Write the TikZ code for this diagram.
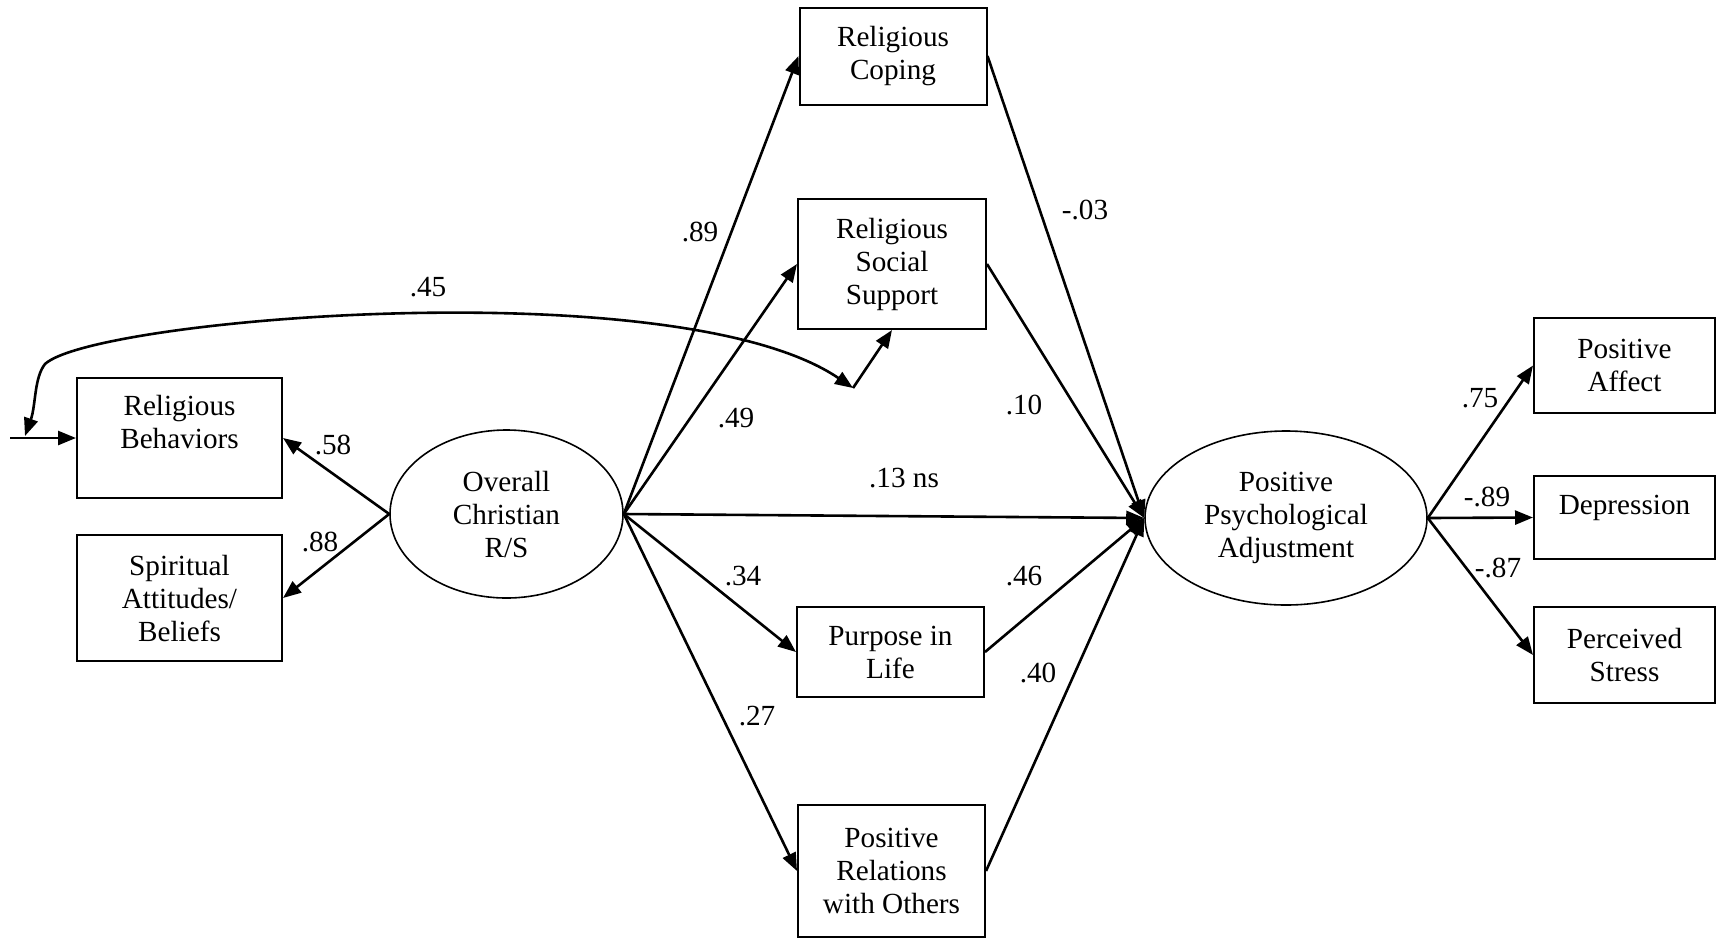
\documentclass[tikz,border=0pt]{standalone}
\usepackage{fontspec}
\setmainfont{Liberation Serif}
\usetikzlibrary{shapes.geometric, arrows.meta}

\begin{document}
\begin{tikzpicture}[x=0.5pt, y=-0.5pt, font=\fontsize{14.6}{16.5}\selectfont,
	box/.style={draw, line width=1pt, align=center, inner sep=0pt},
	latent/.style={draw, ellipse, line width=0.8pt, align=center, inner sep=0pt},
	link/.style={line width=1.3pt, -{Triangle[length=9pt, width=7pt]}},
	cov/.style={line width=1.3pt, {Triangle[length=9pt, width=7pt]}-{Triangle[length=9pt, width=7pt]}}]
	
	\useasboundingbox (0,0) rectangle (1716,938);
	
	\node [box, minimum width=93.5pt, minimum height=48.5pt] (RC) at (893,56) {Religious\\Coping};
	\node [box, minimum width=94pt, minimum height=65pt] (RSS) at (892,264) {Religious\\Social\\Support};
	\node [box, minimum width=93.5pt, minimum height=45pt] (PIL) at (890.5,652) {Purpose in\\Life};
	\node [box, minimum width=93.5pt, minimum height=66pt] (PRO) at (891.5,871) {Positive\\Relations\\with Others};
	\node [box, minimum width=102.5pt, minimum height=60pt] (RB) at (179.5,438) {Religious\\Behaviors\\\mbox{}};
	\node [box, minimum width=102.5pt, minimum height=63pt] (SAB) at (179.5,598) {Spiritual\\Attitudes/\\Beliefs};
	\node [latent, minimum width=116.5pt, minimum height=84pt] (OCRS) at (506.5,514) {Overall\\Christian\\R/S};
	\node [latent, minimum width=141pt, minimum height=87pt] (PPA) at (1286,518) {Positive\\Psychological\\Adjustment};
	\node [box, minimum width=90.5pt, minimum height=47.5pt] (PA) at (1624.5,365.5) {Positive\\Affect};
	\node [box, minimum width=90.5pt, minimum height=41.5pt] (DEP) at (1624.5,517.5) {Depression\\[-4pt]\mbox{}};
	\node [box, minimum width=90.5pt, minimum height=48pt] (PS) at (1624.5,655) {Perceived\\Stress};
	
	\draw [link] (OCRS.west) -- (RB.east);
	\draw [link] (OCRS.west) -- (SAB.east);
	\draw [link] (OCRS.east) -- (RC.west);
	\draw [link] (OCRS.east) -- (RSS.west);
	\draw [link] (OCRS.east) -- (PPA.west);
	\draw [link] (OCRS.east) -- (PIL.west);
	\draw [link] (OCRS.east) -- (PRO.west);
	\draw [link] (RC.east) -- (PPA.west);
	\draw [link] (RSS.east) -- (PPA.west);
	\draw [link] (PIL.east) -- (PPA.west);
	\draw [link] (PRO.east) -- (PPA.west);
	\draw [link] (PPA.east) -- (PA.west);
	\draw [link] (PPA.east) -- (DEP.west);
	\draw [link] (PPA.east) -- (PS.west);
	
	\coordinate (in) at (10,438);
	\draw [link] (in) -- (RB.west);
	\coordinate (covL) at (25,436);
	\coordinate (covR) at (853,388);
	\draw [cov] (covL) .. controls (36,405) and (34,378) .. (45,364) .. controls (95,318) and (680,270) .. (covR);
	\draw [link] (covR) -- (RSS.south);
	
	\node (w45) at (428,287) {.45};
	\node (w58) at (333,445) {.58};
	\node (w88) at (320,542) {.88};
	\node (w89) at (700,232) {.89};
	\node (w49) at (736,418) {.49};
	\node (w13) at (904,478) {.13 ns};
	\node (w34) at (743,576) {.34};
	\node (w27) at (757,716) {.27};
	\node (w03) at (1085,210) {-.03};
	\node (w10) at (1024,405) {.10};
	\node (w46) at (1024,576) {.46};
	\node (w40) at (1038,673) {.40};
	\node (w75) at (1480,398) {.75};
	\node (w89b) at (1487,497) {-.89};
	\node (w87) at (1498,568) {-.87};
	
\end{tikzpicture}
\end{document}
